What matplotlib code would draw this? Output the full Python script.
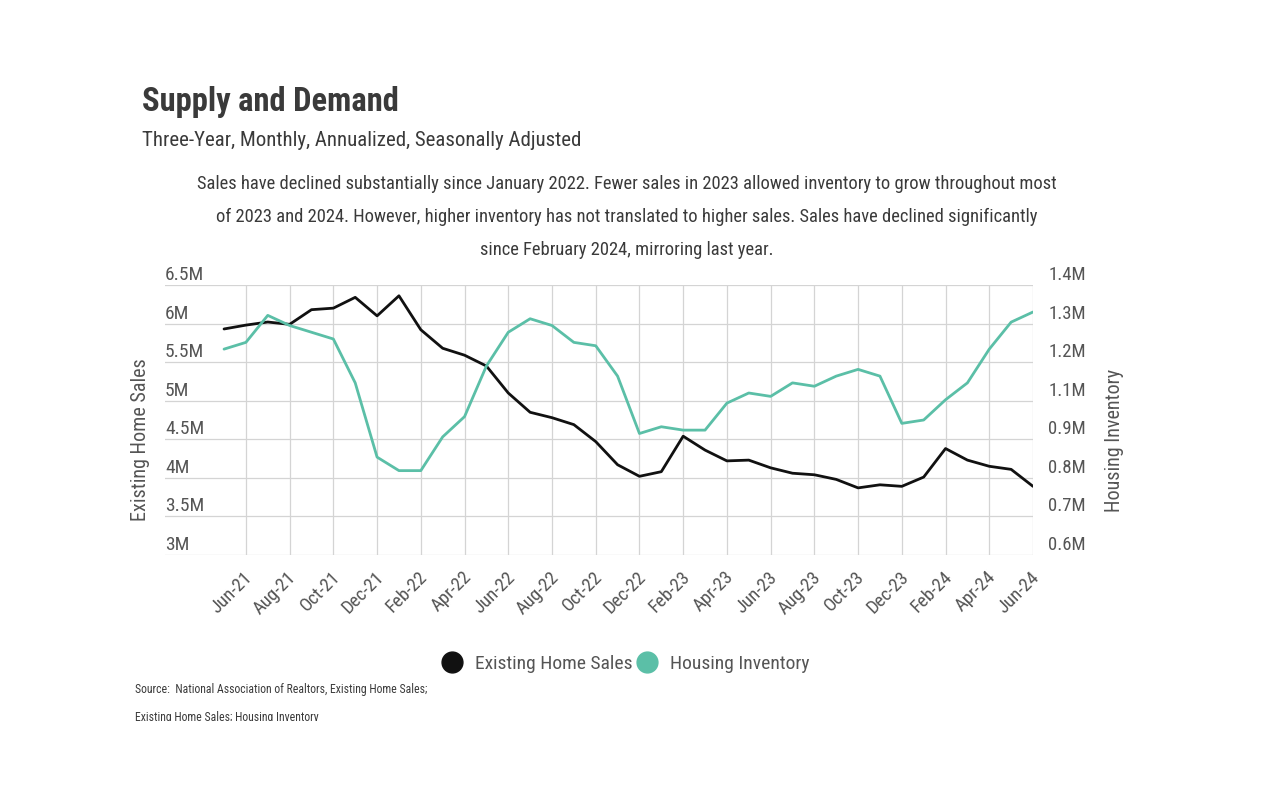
import pandas as pd
import matplotlib
matplotlib.use("Agg")
import matplotlib.pyplot as plt
from matplotlib import font_manager as fm
from matplotlib.transforms import ScaledTranslation, Bbox
from matplotlib.lines import Line2D

# Pick a narrow font if one is installed
names = {f.name for f in fm.fontManager.ttflist}
font = "DejaVu Sans"
for cand in ["Roboto Condensed", "Liberation Sans Narrow", "Open Sans Condensed", "Noto Sans Condensed"]:
    if cand in names:
        font = cand
        break
plt.rcParams["font.family"] = [font, "DejaVu Sans"]
if font == "DejaVu Sans":
    plt.rcParams["font.stretch"] = "condensed"

# Data (millions), May-21 .. Jun-24
months = pd.date_range("2021-05-01", periods=38, freq="MS").strftime("%b-%y").tolist()

home_sales = [5.93, 5.98, 6.02, 5.99, 6.18, 6.20, 6.34, 6.10, 6.36, 5.92,
              5.68, 5.59, 5.45, 5.10, 4.85, 4.78, 4.69, 4.47, 4.17, 4.02,
              4.08, 4.54, 4.36, 4.22, 4.23, 4.13, 4.06, 4.04, 3.98, 3.87,
              3.91, 3.89, 4.01, 4.38, 4.23, 4.15, 4.11, 3.89]

inventory = [1.21, 1.23, 1.31, 1.28, 1.26, 1.24, 1.11, 0.89, 0.85, 0.85,
             0.95, 1.01, 1.16, 1.26, 1.30, 1.28, 1.23, 1.22, 1.13, 0.96,
             0.98, 0.97, 0.97, 1.05, 1.08, 1.07, 1.11, 1.10, 1.13, 1.15,
             1.13, 0.99, 1.00, 1.06, 1.11, 1.21, 1.29, 1.32]

left_ticks = [3.0, 3.5, 4.0, 4.5, 5.0, 5.5, 6.0, 6.5]
left_labels = ["3M", "3.5M", "4M", "4.5M", "5M", "5.5M", "6M", "6.5M"]
right_min, right_max = 0.6, 1.4

BLACK = "#111111"
TEAL = "#5bbfa7"
TEXT = "#3a3a3a"
TICK = "#555555"

fig = plt.figure(figsize=(12.8, 8), dpi=100)
fig.patch.set_facecolor("white")
ax = fig.add_axes([165 / 1280, 1 - 555 / 800, (1033 - 165) / 1280, (555 - 285) / 800])
ax2 = ax.twinx()

x = list(range(len(months)))
ax.plot(x, home_sales, color=BLACK, lw=2.0, solid_joinstyle="round", solid_capstyle="round", zorder=3)
ax2.plot(x, inventory, color=TEAL, lw=2.0, solid_joinstyle="round", solid_capstyle="round", zorder=3)

ax.set_xlim(-2.7, len(months) - 1)
ax.set_ylim(left_ticks[0], left_ticks[-1])
ax2.set_ylim(right_min, right_max)

# x ticks every two months starting Jun-21
xt = x[1::2]
ax.set_xticks(xt)
ax.set_xticklabels([months[i] for i in xt], rotation=45, ha="right", va="center",
                   rotation_mode="anchor", fontsize=13.5, color=TICK)
ax.tick_params(axis="x", length=0, pad=14)

ax.set_yticks(left_ticks)
ax.set_yticklabels(left_labels, fontsize=14, color=TICK)
ax.tick_params(axis="y", length=0, pad=0)
for lbl in ax.get_yticklabels():
    lbl.set_horizontalalignment("left")

# right axis: 8 evenly spaced ticks, labels rounded to one decimal
n = len(left_ticks)
rt = [right_min + (right_max - right_min) * i / (n - 1) for i in range(n)]
ax2.set_yticks(rt)
ax2.set_yticklabels(["%.1fM" % v for v in rt], fontsize=13.5, color=TICK)
ax2.tick_params(axis="y", length=0, pad=11)

# labels sit a little above their grid lines
shift = ScaledTranslation(0, 0.12, fig.dpi_scale_trans)
for lbl in ax.get_yticklabels() + ax2.get_yticklabels():
    lbl.set_transform(lbl.get_transform() + shift)
xshift = ScaledTranslation(0.04, 0, fig.dpi_scale_trans)
for lbl in ax.get_xticklabels():
    lbl.set_transform(lbl.get_transform() + xshift)

ax.grid(True, color="#d4d4d4", lw=0.9)
ax.set_axisbelow(True)
for a in (ax, ax2):
    for s in a.spines.values():
        s.set_visible(False)

fig.text(140 / 1280, 1 - 440 / 800, "Existing Home Sales", rotation=90, ha="center", va="center",
         fontsize=14.5, color=TICK)
fig.text(1115 / 1280, 1 - 440 / 800, "Housing Inventory", rotation=90, ha="center", va="center",
         fontsize=14.5, color=TICK)

# titles
fig.text(142 / 1280, 1 - 102 / 800, "Supply and Demand", fontsize=23.5, fontweight="bold",
         color=TEXT, va="center")
fig.text(142 / 1280, 1 - 140 / 800, "Three-Year, Monthly, Annualized, Seasonally Adjusted",
         fontsize=15, color=TEXT, va="center")
desc = ("Sales have declined substantially since January 2022. Fewer sales in 2023 allowed inventory to grow throughout most\n"
        "of 2023 and 2024. However, higher inventory has not translated to higher sales. Sales have declined significantly\n"
        "since February 2024, mirroring last year.")
fig.text(627 / 1280, 1 - 217 / 800, desc, fontsize=13.3, color=TEXT, ha="center", va="center",
         linespacing=2.05)

# legend
handles = [Line2D([], [], marker="o", ls="none", color=BLACK, markersize=15),
           Line2D([], [], marker="o", ls="none", color=TEAL, markersize=15)]
fig.legend(handles, ["Existing Home Sales", "Housing Inventory"], loc="center",
           bbox_to_anchor=(625 / 1280, 1 - 664 / 800), ncol=2, frameon=False,
           fontsize=14, labelcolor=TICK, handletextpad=0.6, columnspacing=0.1,
           handlelength=1.2)

# source note (second line cut off at the bottom like the original)
fig.text(135 / 1280, 1 - 690 / 800, "Source:  National Association of Realtors, Existing Home Sales;",
         fontsize=8.5, color=TEXT, va="center")
t = fig.text(135 / 1280, 1 - 717 / 800, "Existing Home Sales; Housing Inventory",
             fontsize=8.5, color=TEXT, va="center")
t.set_clip_box(Bbox([[0, 800 - 721], [1280, 800]]))
t.set_clip_on(True)

fig.savefig("out.png", dpi=100, facecolor="white")
